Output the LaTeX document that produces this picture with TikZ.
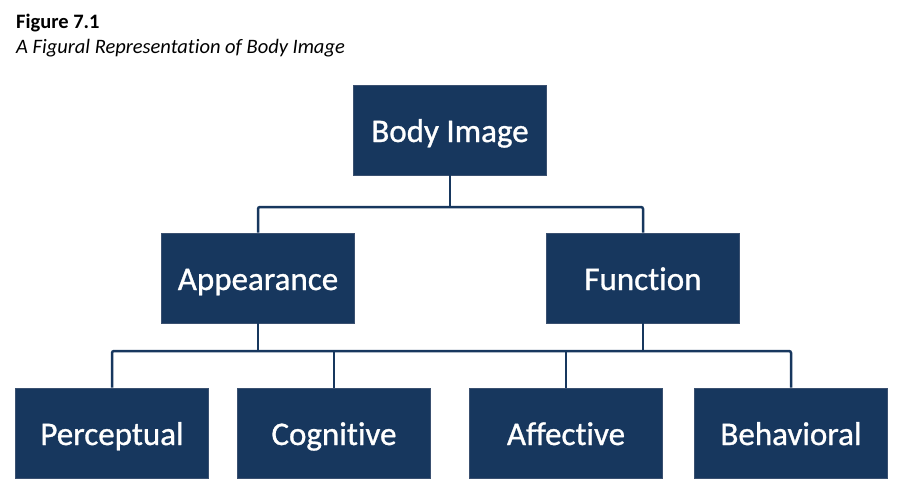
\documentclass[tikz,border=0pt]{standalone}
\usepackage{fontspec}
\setmainfont{Carlito}[Ligatures=NoCommon]
\newfontfamily\boxfont{Carlito}[Ligatures=NoCommon, FakeBold=0.9]
\definecolor{navy}{HTML}{17375E}
\definecolor{navyedge}{HTML}{3A5070}
\begin{document}
\begin{tikzpicture}[x=1pt,y=-1pt,
  box/.style={fill=navy, draw=navyedge, line width=0.8pt, minimum width=193pt, minimum height=90pt,
    text=white, font=\boxfont\fontsize{33}{40}\selectfont, inner sep=0pt, text height=24pt, text depth=0pt},
  link/.style={draw=navy, line width=2.5pt, rounded corners=2pt},
  title/.style={anchor=base west, inner sep=0pt, font=\fontsize{20.5}{24}\selectfont}]
\useasboundingbox (0,0) rectangle (906,499);
\node[title, font=\fontsize{20.5}{24}\selectfont\bfseries] (fig) at (16,28) {Figure 7.1};
\node[title, font=\fontsize{20.5}{24}\selectfont\itshape] (cap) at (16,53) {A Figural Representation of Body Image};

\coordinate (j1) at (450,207);
\coordinate (j2) at (450,351);

\node[box] (body) at (450,130) {Body Image};
\node[box] (app) at (258,278) {Appearance};
\node[box] (fun) at (643,278) {Function};
\node[box] (perc) at (112,433) {Perceptual};
\node[box] (cog) at (334,433) {Cognitive};
\node[box] (aff) at (566,433) {Affective};
\node[box] (beh) at (791,433) {Behavioral};

\draw[link] (body.south) -- (j1);
\draw[link] (app.north) -- (app.north |- j1) -- (fun.north |- j1) -- (fun.north);
\draw[link] (perc.north) -- (perc.north |- j2) -- (beh.north |- j2) -- (beh.north);
\draw[link] (app.south) -- (app.south |- j2);
\draw[link] (fun.south) -- (fun.south |- j2);
\draw[link] (cog.north) -- (cog.north |- j2);
\draw[link] (aff.north) -- (aff.north |- j2);
\end{tikzpicture}
\end{document}
